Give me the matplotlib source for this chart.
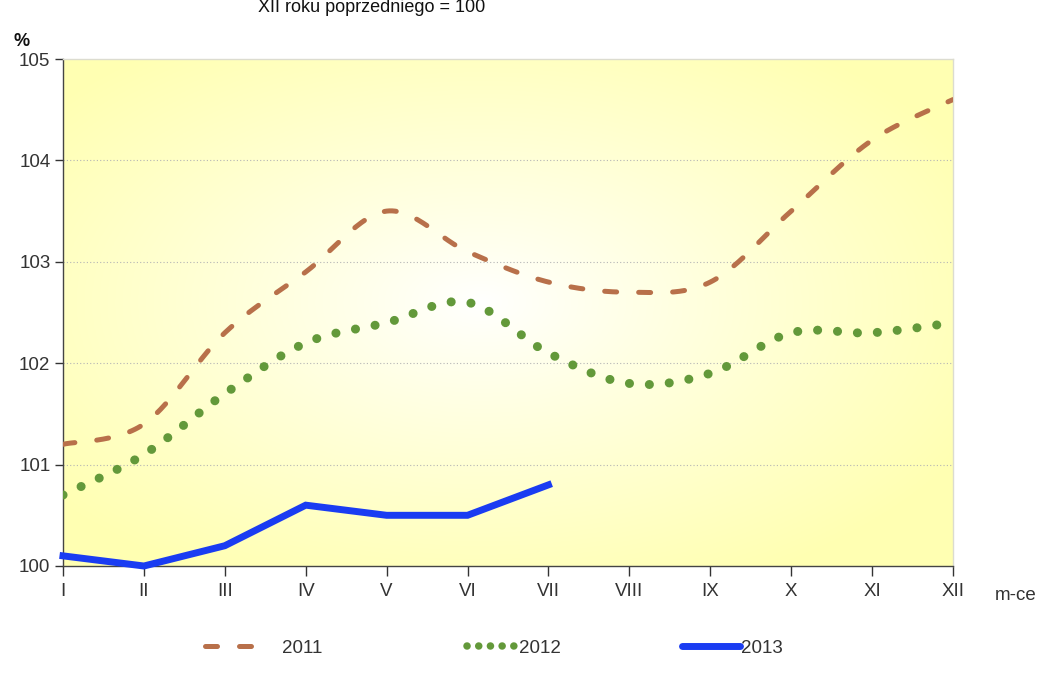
import numpy as np
import matplotlib
matplotlib.use("Agg")
import matplotlib.pyplot as plt
from matplotlib.lines import Line2D

months = ["I", "II", "III", "IV", "V", "VI", "VII", "VIII", "IX", "X", "XI", "XII"]
s2011 = [101.2, 101.4, 102.3, 102.9, 103.5, 103.1, 102.8, 102.7, 102.8, 103.5, 104.2, 104.6]
s2012 = [100.7, 101.1, 101.7, 102.2, 102.4, 102.6, 102.1, 101.8, 101.9, 102.3, 102.3, 102.4]
s2013 = [100.1, 100.0, 100.2, 100.6, 100.5, 100.5, 100.8]
yticks = [100, 101, 102, 103, 104, 105]

FONT = ['Liberation Sans', 'DejaVu Sans']
plt.rcParams['font.family'] = FONT

C11 = '#b8704a'
C12 = '#63993a'
C13 = '#1a3cf2'

def smooth(x, y, n=30):
    # Bezier smoothing through the points (like a spreadsheet "smoothed line")
    x = np.asarray(x, float); y = np.asarray(y, float)
    P = np.column_stack([x, y])
    P = np.vstack([P[0], P, P[-1]])
    out = []
    for i in range(1, len(P) - 2):
        p0, p1, p2, p3 = P[i - 1], P[i], P[i + 1], P[i + 2]
        c1 = p1 + (p2 - p0) / 6.0
        c2 = p2 - (p3 - p1) / 6.0
        t = np.linspace(0, 1, n)[:, None]
        seg = ((1 - t) ** 3) * p1 + 3 * ((1 - t) ** 2) * t * c1 + 3 * (1 - t) * t ** 2 * c2 + t ** 3 * p2
        out.append(seg if i == 1 else seg[1:])
    out = np.vstack(out)
    return out[:, 0], out[:, 1]

fig = plt.figure(figsize=(10.57, 6.86), dpi=100)
ax = fig.add_axes([63 / 1057, 1 - 566 / 686, 890 / 1057, 507 / 686])

# radial gradient background
nx, ny = 400, 260
gx, gy = np.meshgrid(np.linspace(0, 1, nx), np.linspace(0, 1, ny))
cx, cy = 0.47, 0.52
d = np.sqrt(((gx - cx) / 0.62) ** 2 + ((gy - cy) / 0.62) ** 2)
d = np.clip(d, 0, 1) ** 0.9
white = np.array([1.0, 1.0, 1.0])
yellow = np.array([1.0, 1.0, 0.70])
img = white[None, None, :] * (1 - d[..., None]) + yellow[None, None, :] * d[..., None]
ax.imshow(img, extent=[0, 1, 0, 1], transform=ax.transAxes, origin='lower',
          aspect='auto', zorder=0)

xi = np.arange(len(months))
ax.set_xlim(0, len(months) - 1)
ax.set_ylim(100, 105)

for yv in yticks[1:-1]:
    ax.axhline(yv, color='#b5b5b5', lw=0.8, linestyle=(0, (1, 2)), zorder=1)

x1, y1 = smooth(xi, s2011)
ax.plot(x1, y1, color=C11, lw=3.6, linestyle=(0, (2.4, 4.4)),
        dash_capstyle='round', zorder=3)
x2, y2 = smooth(xi, s2012)
ax.plot(x2, y2, color=C12, lw=6.5, linestyle=(0, (0.01, 2.2)),
        dash_capstyle='round', zorder=3)
ax.plot(xi[:len(s2013)], s2013, color=C13, lw=5.0,
        solid_joinstyle='miter', zorder=4, clip_on=False)

ax.set_xticks(xi)
ax.set_xticklabels(months)
ax.set_yticks(yticks)
ax.set_yticklabels([str(v) for v in yticks])
ax.tick_params(axis='both', colors='#333333', labelcolor='#333333', labelsize=13.5,
               length=6, width=1, direction='out')
ax.tick_params(axis='x', pad=5, length=7)
ax.tick_params(axis='y', pad=3)

for side in ['left', 'bottom']:
    ax.spines[side].set_color('#444444')
    ax.spines[side].set_linewidth(1.0)
for side in ['top', 'right']:
    ax.spines[side].set_color('#dcdcd0')
    ax.spines[side].set_linewidth(1.0)

fig.text(372 / 1057, 1 - 12 / 686, "XII roku poprzedniego = 100", ha='center',
         va='baseline', fontsize=13, color='#111111')
fig.text(13 / 1057, 1 - 42 / 686, "%", ha='left', va='center', fontsize=13,
         fontweight='bold', color='#111111')
fig.text(995 / 1057, 1 - 596 / 686, "m-ce", ha='left', va='center', fontsize=13.5, color='#333333')

def leg(handle, label, x, hl, tp):
    lg = fig.legend([handle], [label], loc='center left', bbox_to_anchor=(x, 1 - 648 / 686),
                    frameon=False, handlelength=hl, handletextpad=tp, fontsize=13.5,
                    borderaxespad=0, borderpad=0)
    for t in lg.get_texts():
        t.set_color('#333333')
    return lg

h1 = Line2D([], [], color=C11, lw=3.6, linestyle=(0, (2.4, 4.4)), dash_capstyle='round')
h2 = Line2D([], [], color=C12, lw=5.4, linestyle=(0, (0.01, 1.55)), dash_capstyle='round')
h3 = Line2D([], [], color=C13, lw=5.0, solid_capstyle='round')
leg(h1, "2011", 205 / 1057, 3.0, 1.1)
leg(h2, "2012", 467 / 1057, 2.5, 0.25)
leg(h3, "2013", 682 / 1057, 3.1, 0.05)

fig.savefig("out.png", dpi=100, facecolor='white')
